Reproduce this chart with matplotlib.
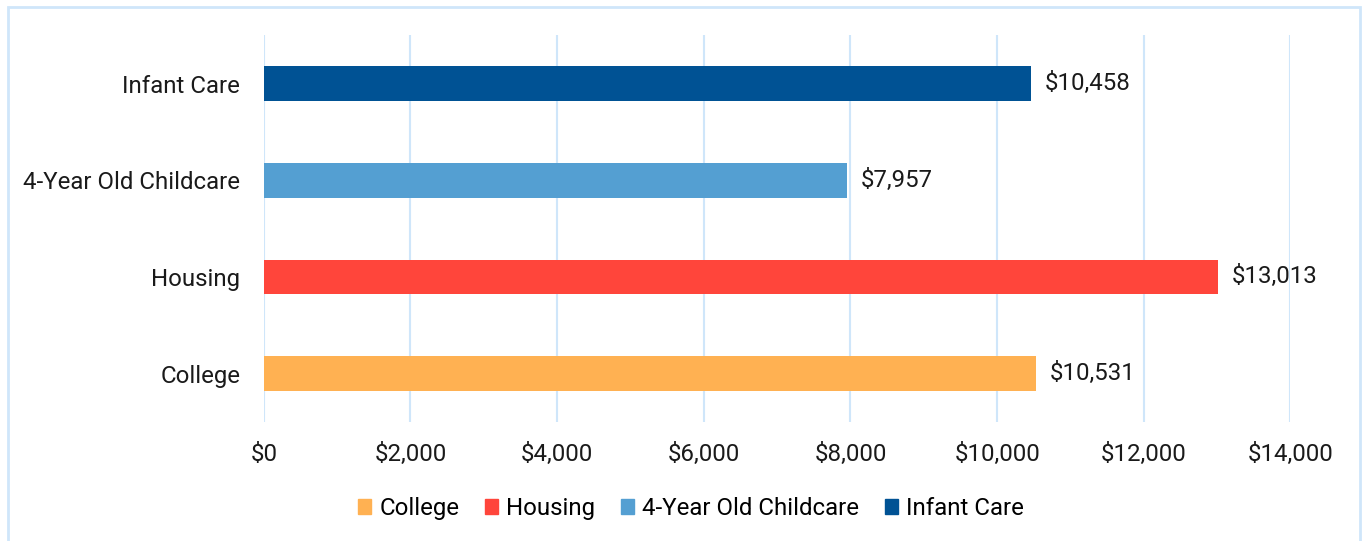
import matplotlib.pyplot as plt
from matplotlib.patches import Rectangle
from matplotlib.ticker import FuncFormatter

plt.rcParams['font.family'] = ['Roboto', 'DejaVu Sans']

# data, bottom to top
categories = ["College", "Housing", "4-Year Old Childcare", "Infant Care"]
costs = [10531, 13013, 7957, 10458]
colors = ["#FFB152", "#FF453B", "#549FD2", "#005294"]
xticks = [0, 2000, 4000, 6000, 8000, 10000, 12000, 14000]

grid_color = "#CFE6FA"
fs = 17.3

fig = plt.figure(figsize=(13.67, 5.41), dpi=100)
ax = fig.add_axes([0.193, 0.22, 0.751, 0.715])

bars = ax.barh(range(len(categories)), costs, height=0.36, color=colors, zorder=3)
for i, v in enumerate(costs):
    ax.annotate(f"${v:,}", (v, i), xytext=(10, 0), textcoords="offset points",
                va="center", ha="left", fontsize=fs, color="#1a1a1a")

ax.set_yticks(range(len(categories)))
ax.set_yticklabels(categories, fontsize=fs, color="#1a1a1a")
ax.set_xticks(xticks)
ax.xaxis.set_major_formatter(FuncFormatter(lambda x, p: f"${int(x):,}"))
ax.tick_params(axis="x", labelsize=fs, colors="#1a1a1a", length=0, pad=15)
ax.tick_params(axis="y", length=0, pad=17)
ax.set_xlim(0, 14000)
ax.set_ylim(-0.5, 3.5)

ax.grid(axis="x", color=grid_color, linewidth=1.5, zorder=0)
for s in ax.spines.values():
    s.set_visible(False)

handles = [Rectangle((0, 0), 1, 1, color=c) for c in colors]
fig.legend(handles, categories, loc="center", bbox_to_anchor=(0.5055, 0.06), ncol=4,
           frameon=False, fontsize=fs, handlelength=0.55, handleheight=0.55,
           handletextpad=0.35, columnspacing=1.05)

# light blue chart frame
fig.patches.append(Rectangle((8 / 1367, -0.05), 1352 / 1367, 1.05 - 7 / 541,
                             transform=fig.transFigure, fill=False,
                             edgecolor=grid_color, linewidth=2))

fig.savefig("out.png", dpi=100)
